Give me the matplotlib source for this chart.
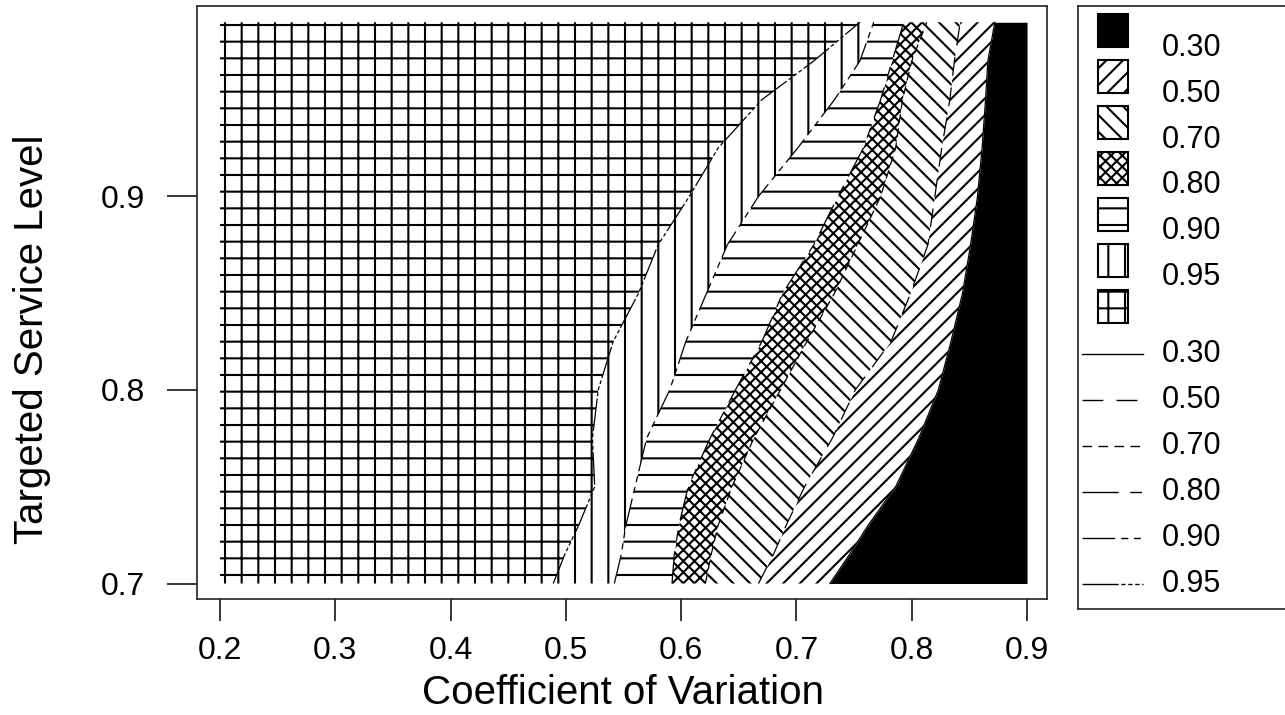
import matplotlib
matplotlib.use('Agg')
import matplotlib.pyplot as plt
from matplotlib.patches import Rectangle

# Contour boundaries: CV at each targeted service level.
sl_levels = [0.700, 0.715, 0.730, 0.750, 0.775, 0.800, 0.825, 0.850,
             0.875, 0.900, 0.925, 0.950, 0.970, 0.990]
cv_095 = [0.489, 0.499, 0.511, 0.525, 0.523, 0.528, 0.541, 0.563,
          0.580, 0.607, 0.632, 0.670, 0.715, 0.755]
cv_090 = [0.542, 0.548, 0.552, 0.560, 0.570, 0.590, 0.604, 0.622,
          0.640, 0.667, 0.701, 0.733, 0.755, 0.767]
cv_080 = [0.592, 0.594, 0.598, 0.606, 0.625, 0.647, 0.670, 0.688,
          0.715, 0.736, 0.758, 0.773, 0.783, 0.793]
cv_070 = [0.621, 0.626, 0.632, 0.644, 0.663, 0.686, 0.709, 0.733,
          0.753, 0.773, 0.786, 0.792, 0.800, 0.813]
cv_050 = [0.667, 0.680, 0.691, 0.707, 0.731, 0.751, 0.782, 0.799,
          0.814, 0.820, 0.826, 0.833, 0.837, 0.842]
cv_030 = [0.729, 0.746, 0.762, 0.786, 0.806, 0.823, 0.834, 0.844,
          0.851, 0.857, 0.861, 0.864, 0.866, 0.872]
cv_min, cv_max = 0.2, 0.9

level_labels = ['0.30', '0.50', '0.70', '0.80', '0.90', '0.95']
x_ticks = [0.2, 0.3, 0.4, 0.5, 0.6, 0.7, 0.8, 0.9]
y_ticks = [0.7, 0.8, 0.9]

# fill pattern for each band, from lowest (black) to highest (grid)
hatches = [None, '//', '\\\\', 'xxx', '-', '|', '+']
dash_styles = ['-', (0, (15, 9.5)), (0, (7, 4.5)), (0, (26, 8.4, 8.4, 8.4)),
               (0, (23.5, 4.5, 5, 4, 5, 4)), (0, (26, 2, 3, 2, 3, 2, 3, 2))]

plt.rcParams['font.family'] = ['Liberation Sans', 'DejaVu Sans']
plt.rcParams['hatch.linewidth'] = 1.5

W, H = 1285, 715


def px_box(left, top, right, bottom):
    """Axes rectangle in figure fractions from pixel edges."""
    return [left / W, 1 - bottom / H, (right - left) / W, (bottom - top) / H]


fig = plt.figure(figsize=(W / 100, H / 100), dpi=100)
ax = fig.add_axes(px_box(197, 6, 1047, 599))

n = len(sl_levels)
bounds = [[cv_max] * n, cv_030, cv_050, cv_070, cv_080, cv_090, cv_095,
          [cv_min] * n]
for i, hatch in enumerate(hatches):
    right, left = bounds[i], bounds[i + 1]
    if hatch is None:
        ax.fill_betweenx(sl_levels, left, right, facecolor='black',
                         edgecolor='black', linewidth=0)
    else:
        ax.fill_betweenx(sl_levels, left, right, facecolor='white',
                         edgecolor='black', hatch=hatch, linewidth=0)

# contour lines
for cv_line, style in zip(bounds[1:7], dash_styles):
    ax.plot(cv_line, sl_levels, color='black', lw=0.9, linestyle=style)

ax.set_xlim(0.1800, 0.9173)
ax.set_ylim(0.6920, 0.9984)
ax.set_xticks(x_ticks)
ax.set_xticklabels([f'{v:.1f}' for v in x_ticks])
ax.set_yticks(y_ticks)
ax.set_yticklabels([f'{v:.1f}' for v in y_ticks])
ax.tick_params(axis='y', length=21.6, width=1.1, pad=16, labelsize=23)
ax.tick_params(axis='x', length=15.5, width=1.1, pad=11, labelsize=23)
for sp in ax.spines.values():
    sp.set_linewidth(1.2)
    sp.set_color('#222222')

fig.text(623 / W, 1 - 704 / H, 'Coefficient of Variation', fontsize=29,
         ha='center', va='baseline')
fig.text(32 / W, 1 - 339 / H, 'Targeted Service Level', fontsize=29,
         ha='center', va='center', rotation=90)

# legend box drawn in pixel units
lax = fig.add_axes(px_box(1078, 6, 1300, 609))
lax.set_xlim(1078, 1300)
lax.set_ylim(609, 6)
lax.set_xticks([])
lax.set_yticks([])
for sp in lax.spines.values():
    sp.set_linewidth(1.2)
    sp.set_color('#222222')

for i, hatch in enumerate(hatches):
    top = 14 + i * 46
    if hatch is None:
        rect = Rectangle((1098, top), 30, 33, facecolor='black',
                         edgecolor='black', lw=1.5)
    else:
        rect = Rectangle((1098, top), 30, 33, facecolor='white',
                         edgecolor='black', hatch=hatch, lw=1.5)
    lax.add_patch(rect)

for i, label in enumerate(level_labels):
    lax.text(1162, 48 + i * 45.8, label, fontsize=22, ha='left', va='center')
    y = 354 + i * 46
    lax.plot([1082, 1143], [y, y], color='black', lw=1.0,
             linestyle=dash_styles[i])
    lax.text(1162, y, label, fontsize=22, ha='left', va='center')

fig.savefig('out.png', dpi=100)
